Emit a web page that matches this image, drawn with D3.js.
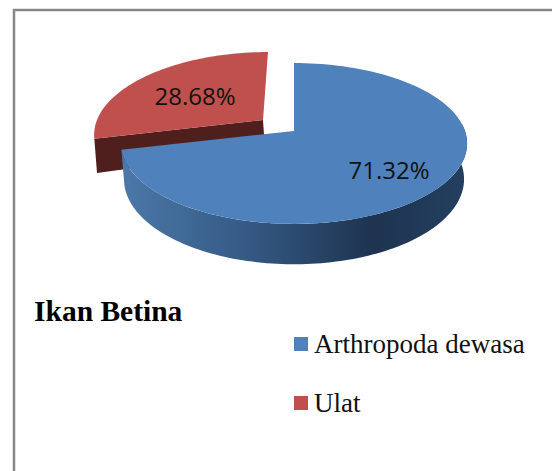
<!DOCTYPE html>
<html>
<head>
<meta charset="utf-8">
<script src="https://cdn.jsdelivr.net/npm/d3@7"></script>
<style>
  html, body { margin: 0; padding: 0; background: #fff; }
  svg { display: block; }
</style>
</head>
<body>
<div id="chart"></div>
<script>
// --------------------------------------
// Data
// --------------------------------------
const categories = ["Arthropoda dewasa", "Ulat"];
const values = [71.32, 28.68];
const title = "Ikan Betina";

const width = 552;
const height = 471;
const colors = d3.scaleOrdinal().domain(categories).range(["#4f81bd", "#c0504d"]);

// --------------------------------------
// Canvas
// --------------------------------------
const svg = d3.select("#chart")
  .append("svg")
    .attr("width", width)
    .attr("height", height);

svg.append("path")
  .attr("d", `M14,${height}V10H${width}`)
  .attr("fill", "none")
  .attr("stroke", "#878787")
  .attr("stroke-width", 2.5);

const wallGradient = svg.append("defs")
  .append("linearGradient")
    .attr("id", "wallGradient")
    .attr("gradientUnits", "userSpaceOnUse")
    .attr("x1", 124).attr("x2", 468)
    .attr("y1", 0).attr("y2", 0);

[[0, "#4a78a8"], [0.35, "#355a85"], [0.72, "#1e3450"], [1, "#243f60"]].forEach(([o, c]) => {
  wallGradient.append("stop").attr("offset", o).attr("stop-color", c);
});

// --------------------------------------
// Tilted pie projection
// --------------------------------------
const tilt = 0.155;

// plane: where the apex sits and how wide the disc is on screen
function project(plane, angle) {
  const u = Math.sin(angle), v = Math.cos(angle);
  const w = 1 + tilt * v;
  return [
    plane.x + plane.rx * u / w + plane.lean * v,
    plane.y - plane.ry * v / w
  ];
}

const rim = (plane, a0, a1) =>
  d3.range(0, 121).map(i => project(plane, a0 + (a1 - a0) * i / 120));

const line = d3.line();

const slices = d3.pie().sort(null)(values);
const blue = slices[0];
const red = slices[1];

const blueTop = { x: 294, y: 131, rx: 171, ry: 78.5, lean: 0 };
const blueBottom = { x: 294, y: 166, rx: 168, ry: 83, lean: 0 };
const redTop = { x: 263, y: 120, rx: 166, ry: 78.5, lean: 5 };
const redBottom = { x: 265, y: 150, rx: 166, ry: 97, lean: 2 };

// --------------------------------------
// Slices
// --------------------------------------
const pie = svg.append("g");

// red: cut face first, then the top
const redRimStart = project(redTop, red.startAngle);
pie.append("path")
  .attr("d", line([
    [redTop.x, redTop.y],
    redRimStart,
    project(redBottom, red.startAngle),
    [redBottom.x, redBottom.y]
  ]) + "Z")
  .attr("fill", "#4e1f1c");

pie.append("path")
  .attr("d", line([[redTop.x, redTop.y], ...rim(redTop, red.startAngle, red.endAngle)]) + "Z")
  .attr("fill", colors(categories[1]));

// blue: wall, then the top
const wallFrom = Math.PI * 0.47;
pie.append("path")
  .attr("d", line([
    ...rim(blueTop, wallFrom, blue.endAngle),
    ...rim(blueBottom, wallFrom, blue.endAngle).reverse()
  ]) + "Z")
  .attr("fill", "url(#wallGradient)");

pie.append("path")
  .attr("d", line([[blueTop.x, blueTop.y], ...rim(blueTop, blue.startAngle, blue.endAngle)]) + "Z")
  .attr("fill", colors(categories[0]));

// --------------------------------------
// Labels
// --------------------------------------
const labelPos = [[389, 170], [195, 96]];

svg.selectAll(".pct")
  .data(values)
  .join("text")
    .attr("class", "pct")
    .attr("x", (d, i) => labelPos[i][0])
    .attr("y", (d, i) => labelPos[i][1])
    .attr("dy", "0.36em")
    .attr("text-anchor", "middle")
    .attr("font-family", "'Open Sans', sans-serif")
    .attr("font-size", 24)
    .attr("fill", "#111")
    .text(d => d.toFixed(2) + "%");

svg.append("text")
  .attr("x", 34)
  .attr("y", 321)
  .attr("font-family", "'Liberation Serif', serif")
  .attr("font-weight", "bold")
  .attr("font-size", 29.5)
  .attr("fill", "#000")
  .text(title);

// --------------------------------------
// Legend
// --------------------------------------
const legendY = d3.scalePoint().domain(categories).range([337, 396]);

const legend = svg.selectAll(".legend")
  .data(categories)
  .join("g")
    .attr("class", "legend")
    .attr("transform", d => `translate(294, ${legendY(d)})`);

legend.append("rect")
  .attr("width", 14)
  .attr("height", 14)
  .attr("fill", d => colors(d));

legend.append("text")
  .attr("x", 20)
  .attr("y", 16)
  .attr("font-family", "'Liberation Serif', serif")
  .attr("font-size", 27)
  .attr("fill", "#111")
  .text(d => d);
</script>
</body>
</html>
